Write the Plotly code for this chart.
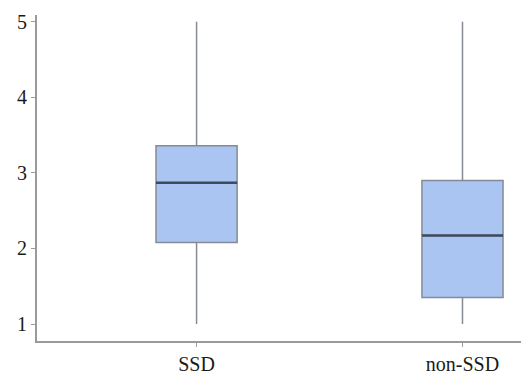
import plotly.graph_objects as go

categories = ["SSD", "non-SSD"]
q1 = [2.08, 1.35]
median = [2.87, 2.17]
q3 = [3.36, 2.90]
lower = [1.0, 1.0]
upper = [5.0, 5.0]
y_ticks = [1, 2, 3, 4, 5]

fig = go.Figure()
fig.add_trace(go.Box(
    x=categories, q1=q1, median=median, q3=q3,
    lowerfence=lower, upperfence=upper,
    fillcolor="#abc5f2", line=dict(color="#858b95", width=1.5),
    whiskerwidth=0, width=0.305, boxpoints=False, hoverinfo="skip",
))
fig.add_trace(go.Box(
    x=categories, q1=median, median=median, q3=median,
    lowerfence=median, upperfence=median,
    fillcolor="rgba(0,0,0,0)", line=dict(color="#3d4b5c", width=2.5),
    whiskerwidth=0, width=0.305, boxpoints=False, hoverinfo="skip",
))
fig.update_layout(
    width=521, height=374,
    margin=dict(l=37, r=0, t=15, b=33),
    paper_bgcolor="white", plot_bgcolor="white",
    showlegend=False, boxmode="overlay",
    font=dict(family="Liberation Serif", size=20, color="#1a1a1a"),
)
fig.update_xaxes(
    range=[-0.6, 1.22], showgrid=False, zeroline=False, automargin=False,
    showline=True, linecolor="#9a9a9a", linewidth=2,
    ticks="outside", ticklen=4, tickcolor="#9a9a9a",
)
fig.update_yaxes(
    range=[0.775, 5.09], tickvals=y_ticks, showgrid=False, zeroline=False,
    automargin=False,
    showline=True, linecolor="#9a9a9a", linewidth=2,
    ticks="outside", ticklen=4, tickcolor="#9a9a9a",
)
fig.write_html(
    "out.html",
    config={"displayModeBar": False},
    post_script="document.body.style.margin='0';document.body.style.overflow='hidden';",
)
